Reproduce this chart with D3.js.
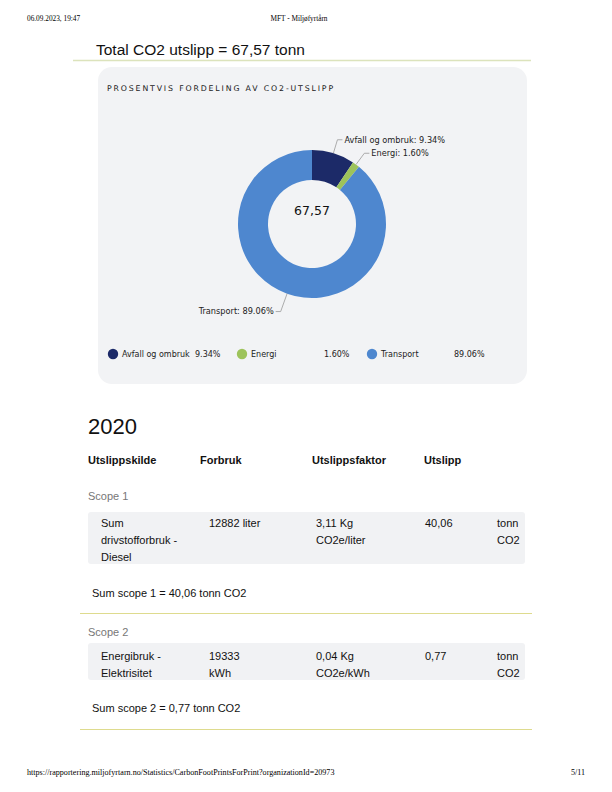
<!DOCTYPE html>
<html><head><meta charset="utf-8">
<script src="https://cdn.jsdelivr.net/npm/d3@7"></script>
<style>html,body{margin:0;padding:0;background:#fff}svg{display:block}</style>
</head><body>
<script>
// ---- data ----
const categories = ["Avfall og ombruk", "Energi", "Transport"];
const percents = [9.34, 1.60, 89.06];
const sliceColors = ["#1c2a68", "#9dc35b", "#4e87cf"];
const totalLabel = "67,57";
const year = "2020";
const columns = ["Utslippskilde", "Forbruk", "Utslippsfaktor", "Utslipp"];
const scope1Rows = [["Sum\ndrivstofforbruk -\nDiesel", "12882 liter", "3,11 Kg\nCO2e/liter", "40,06", "tonn\nCO2"]];
const scope2Rows = [["Energibruk -\nElektrisitet", "19333\nkWh", "0,04 Kg\nCO2e/kWh", "0,77", "tonn\nCO2"]];
const scopeSums = ["Sum scope 1 = 40,06 tonn CO2", "Sum scope 2 = 0,77 tonn CO2"];

const W = 612, H = 792;
const svg = d3.select("body").append("svg").attr("width", W).attr("height", H);
const serif = "'Liberation Serif', 'Times New Roman', serif";
const sans = "'Liberation Sans', Arial, Helvetica, sans-serif";
const verd = "'DejaVu Sans', Verdana, sans-serif";

// print header / footer
svg.append("text").attr("x", 27).attr("y", 21).attr("font-family", serif).attr("font-size", 7.3).text("06.09.2023, 19:47");
svg.append("text").attr("x", 299).attr("y", 21).attr("text-anchor", "middle").attr("font-family", serif).attr("font-size", 7.3).text("MFT - Miljøfyrtårn");
svg.append("text").attr("x", 27).attr("y", 775).attr("font-family", serif).attr("font-size", 8.1).text("https://rapportering.miljofyrtarn.no/Statistics/CarbonFootPrintsForPrint?organizationId=20973");
svg.append("text").attr("x", 585).attr("y", 775).attr("text-anchor", "end").attr("font-family", serif).attr("font-size", 8.1).text("5/11");

// title
svg.append("text").attr("x", 96).attr("y", 55).attr("font-family", sans).attr("font-size", 15.5).attr("fill", "#111").text("Total CO2 utslipp = 67,57 tonn");
svg.append("line").attr("x1", 73).attr("x2", 531).attr("y1", 60.5).attr("y2", 60.5).attr("stroke", "#dce3bc").attr("stroke-width", 1.6);

// panel
svg.append("rect").attr("x", 98).attr("y", 67).attr("width", 429).attr("height", 317).attr("rx", 14).attr("fill", "#f2f3f5");
svg.append("text").attr("x", 107).attr("y", 91).attr("font-family", verd).attr("font-size", 7.8).attr("letter-spacing", 1.85).attr("fill", "#222").text("PROSENTVIS FORDELING AV CO2-UTSLIPP");

// donut
const cx = 312, cy = 224, rOut = 74, rIn = 44;
const pie = d3.pie().sort(null).value(d => d.v);
const data = categories.map((c, i) => ({c, v: percents[i], col: sliceColors[i]}));
const arcs = pie(data);
const arc = d3.arc().innerRadius(rIn).outerRadius(rOut);
const g = svg.append("g").attr("transform", `translate(${cx},${cy})`);
g.selectAll("path").data(arcs).join("path").attr("d", arc).attr("fill", d => d.data.col);
g.append("text").attr("x", 0).attr("y", -9).attr("text-anchor", "middle").attr("font-family", verd).attr("font-size", 12.5).attr("fill", "#111").text(totalLabel);

// labels with leader lines
const fmt = v => v.toFixed(2) + "%";
arcs.forEach(a => {
  const m = (a.startAngle + a.endAngle) / 2;
  const p0 = [rOut * Math.sin(m), -rOut * Math.cos(m)];
  const right = Math.sin(m) >= 0;
  const r2 = rOut + (right ? 14 : 19);
  const p1 = [r2 * Math.sin(m), -r2 * Math.cos(m)];
  const p2 = [p1[0] + (right ? 5 : -5), p1[1]];
  g.append("polyline").attr("points", [p0, p1, p2].map(p => p.join(",")).join(" "))
    .attr("fill", "none").attr("stroke", "#999").attr("stroke-width", 0.8);
  g.append("text").attr("x", p2[0] + (right ? 2 : -2)).attr("y", p2[1]).attr("dy", "0.35em")
    .attr("text-anchor", right ? "start" : "end").attr("font-family", verd).attr("font-size", 8.2).attr("fill", "#222")
    .text(a.data.c + ": " + fmt(a.data.v));
});

// legend
const legX = [113, 242, 372];
const leg = svg.append("g");
data.forEach((d, i) => {
  const x = legX[i];
  leg.append("circle").attr("cx", x).attr("cy", 354).attr("r", 5.2).attr("fill", d.col);
  leg.append("text").attr("x", x + 9).attr("y", 357).attr("font-family", verd).attr("font-size", 8).attr("fill", "#222").text(d.c);
  leg.append("text").attr("x", x + 82).attr("y", 357).attr("font-family", verd).attr("font-size", 8).attr("fill", "#222").text(fmt(d.v));
});

// year + table header
svg.append("text").attr("x", 88).attr("y", 434).attr("font-family", sans).attr("font-size", 22).attr("fill", "#111").text(year);
const colX = [88, 200, 312, 424];
columns.forEach((c, i) => svg.append("text").attr("x", colX[i]).attr("y", 464).attr("font-family", sans).attr("font-size", 11).attr("font-weight", "bold").attr("fill", "#111").text(c));

const cellX = [101, 209, 316, 425, 497];
function scope(label, labelY, rows, boxY, boxH, lineY0, sumText, sumY, ruleY) {
  svg.append("text").attr("x", 88).attr("y", labelY).attr("font-family", sans).attr("font-size", 11).attr("fill", "#777").text(label);
  svg.append("rect").attr("x", 88).attr("y", boxY).attr("width", 437).attr("height", boxH).attr("rx", 3).attr("fill", "#f1f2f4");
  rows.forEach(r => r.forEach((cell, j) => {
    cell.split("\n").forEach((ln, k) => {
      svg.append("text").attr("x", cellX[j]).attr("y", lineY0 + k * 17).attr("font-family", sans).attr("font-size", 11).attr("fill", "#111").text(ln);
    });
  }));
  svg.append("text").attr("x", 92).attr("y", sumY).attr("font-family", sans).attr("font-size", 11).attr("fill", "#111").text(sumText);
  svg.append("line").attr("x1", 80).attr("x2", 532).attr("y1", ruleY).attr("y2", ruleY).attr("stroke", "#dedb8e").attr("stroke-width", 1.2);
}
scope("Scope 1", 500, scope1Rows, 512, 52, 527, scopeSums[0], 597, 613.5);
scope("Scope 2", 636, scope2Rows, 643, 37, 660, scopeSums[1], 712, 729.5);
</script>
</body></html>
